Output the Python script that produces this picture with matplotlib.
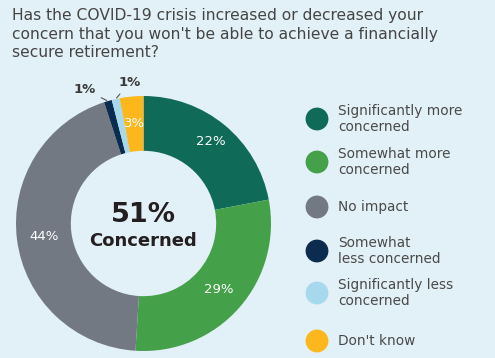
import matplotlib.pyplot as plt
import numpy as np

# data
categories = ["Significantly more\nconcerned", "Somewhat more\nconcerned", "No impact",
              "Somewhat\nless concerned", "Significantly less\nconcerned", "Don't know"]
values = [22, 29, 44, 1, 1, 3]
colors = ["#0f6b58", "#45a149", "#737983", "#0b2c4e", "#a6d8ee", "#fbb71c"]
pct_labels = ["22%", "29%", "44%", "1%", "1%", "3%"]
center_value = "51%"
center_label = "Concerned"
title = ("Has the COVID-19 crisis increased or decreased your\n"
         "concern that you won't be able to achieve a financially\n"
         "secure retirement?")

bg = "#e2f0f7"
W, H = 495, 358
fig = plt.figure(figsize=(W / 100, H / 100), dpi=100, facecolor=bg)

# overlay axes in pixel coords for title + legend
ov = fig.add_axes([0, 0, 1, 1])
ov.set_xlim(0, W)
ov.set_ylim(H, 0)
ov.axis("off")

ov.text(12, 34, title, fontsize=11.2, color="#454545", va="center", ha="left",
        linespacing=1.28)

# legend
leg_y = [119, 162, 207, 251, 293, 341]
ov.scatter([317] * len(colors), leg_y, s=270, c=colors, linewidths=0, zorder=3)
for y, lab in zip(leg_y, categories):
    ov.text(338, y, lab, fontsize=9.8, color="#4a4a4a", va="center", ha="left",
            linespacing=1.15)

# donut
cx, cy, r = 143.5, 223.5, 127.5
ax = fig.add_axes([(cx - r) / W, (H - cy - r) / H, 2 * r / W, 2 * r / H])
ax.set_facecolor("none")
wedges, _ = ax.pie(values, colors=colors, startangle=90, counterclock=False,
                   radius=1, wedgeprops=dict(width=0.43, linewidth=0))
ax.set_xlim(-1, 1)
ax.set_ylim(-1, 1)
ax.set_aspect("equal")

for w, lab, v in zip(wedges, pct_labels, values):
    mid = np.deg2rad((w.theta1 + w.theta2) / 2)
    if v >= 3:
        rr = 0.785 if v != 22 else 0.83
        ax.text(rr * np.cos(mid), rr * np.sin(mid), lab, color="white",
                fontsize=9.5, ha="center", va="center")

# small outside labels
navy, light = wedges[3], wedges[4]
for w, txt_xy in zip([navy, light], [(-0.46, 1.05), (-0.11, 1.105)]):
    mid = np.deg2rad((w.theta1 + w.theta2) / 2)
    ax.annotate(pct_labels[wedges.index(w)], xy=(np.cos(mid), np.sin(mid)),
                xytext=txt_xy, fontsize=9.5, color="#3a3a3a", ha="center",
                va="center", fontweight="bold", annotation_clip=False,
                arrowprops=dict(arrowstyle="-", color="#555555", lw=0.8,
                                shrinkA=2, shrinkB=1))

ax.text(0, 0.07, center_value, fontsize=19.5, fontweight="heavy", color="#231f20",
        ha="center", va="center")
ax.text(0, -0.135, center_label, fontsize=13, fontweight="heavy", color="#231f20",
        ha="center", va="center")

fig.savefig("out.png", dpi=100, facecolor=bg)
